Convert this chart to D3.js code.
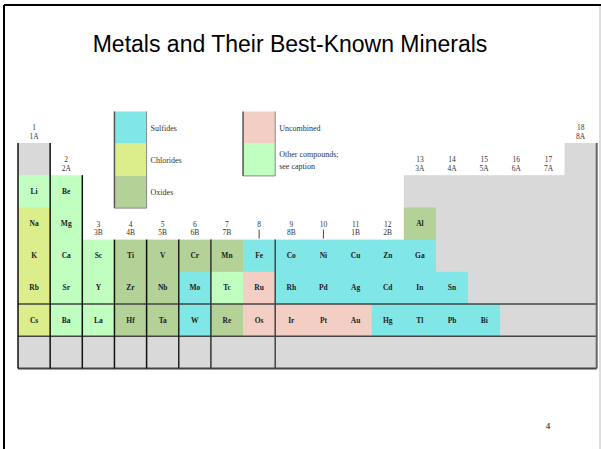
<!DOCTYPE html>
<html>
<head>
<meta charset="utf-8">
<script src="https://cdn.jsdelivr.net/npm/d3@7"></script>
<style>
  body { margin: 0; background: #fff; }
  svg { display: block; }
</style>
</head>
<body>
<div id="chart"></div>
<script>
// symbols per period (row), one entry per group column; '' = empty cell
const symbols = [
  ['H', '', '', '', '', '', '', '', '', '', '', '', '', '', '', '', '', 'He'],
  ['Li', 'Be', '', '', '', '', '', '', '', '', '', '', 'B', 'C', 'N', 'O', 'F', 'Ne'],
  ['Na', 'Mg', '', '', '', '', '', '', '', '', '', '', 'Al', 'Si', 'P', 'S', 'Cl', 'Ar'],
  ['K', 'Ca', 'Sc', 'Ti', 'V', 'Cr', 'Mn', 'Fe', 'Co', 'Ni', 'Cu', 'Zn', 'Ga', 'Ge', 'As', 'Se', 'Br', 'Kr'],
  ['Rb', 'Sr', 'Y', 'Zr', 'Nb', 'Mo', 'Tc', 'Ru', 'Rh', 'Pd', 'Ag', 'Cd', 'In', 'Sn', 'Sb', 'Te', 'I', 'Xe'],
  ['Cs', 'Ba', 'La', 'Hf', 'Ta', 'W', 'Re', 'Os', 'Ir', 'Pt', 'Au', 'Hg', 'Tl', 'Pb', 'Bi', 'Po', 'At', 'Rn'],
  ['Fr', 'Ra', 'Ac', 'Rf', 'Db', 'Sg', 'Bh', 'Hs', 'Mt', 'Ds', 'Rg', 'Cn', 'Nh', 'Fl', 'Mc', 'Lv', 'Ts', 'Og']
];

// mineral type: S sulfide, C chloride, O oxide, U uncombined, X other, G not shown (gray)
const minerals = [
  ['G', '', '', '', '', '', '', '', '', '', '', '', '', '', '', '', '', 'G'],
  ['X', 'X', '', '', '', '', '', '', '', '', '', '', 'G', 'G', 'G', 'G', 'G', 'G'],
  ['C', 'X', '', '', '', '', '', '', '', '', '', '', 'O', 'G', 'G', 'G', 'G', 'G'],
  ['C', 'X', 'X', 'O', 'O', 'O', 'O', 'S', 'S', 'S', 'S', 'S', 'S', 'G', 'G', 'G', 'G', 'G'],
  ['C', 'X', 'X', 'O', 'O', 'S', 'X', 'U', 'S', 'S', 'S', 'S', 'S', 'S', 'G', 'G', 'G', 'G'],
  ['C', 'X', 'X', 'O', 'O', 'S', 'O', 'U', 'U', 'U', 'U', 'S', 'S', 'S', 'S', 'G', 'G', 'G'],
  ['G', 'G', 'G', 'G', 'G', 'G', 'G', 'G', 'G', 'G', 'G', 'G', 'G', 'G', 'G', 'G', 'G', 'G']
];

const groupNumbers = ['1', '2', '3', '4', '5', '6', '7', '8', '9', '10', '11', '12', '13', '14', '15', '16', '17', '18'];
const groupNames = ['1A', '2A', '3B', '4B', '5B', '6B', '7B', '', '8B', '', '1B', '2B', '3A', '4A', '5A', '6A', '7A', '8A'];

const legendLeft = [
  { code: 'S', label: ['Sulfides'] },
  { code: 'C', label: ['Chlorides'] },
  { code: 'O', label: ['Oxides'] }
];
const legendRight = [
  { code: 'U', label: ['Uncombined'] },
  { code: 'X', label: ['Other compounds;', 'see caption'] }
];

const colors = {
  S: '#80e6e6',
  C: '#dcee8c',
  O: '#b4d198',
  U: '#f2cec4',
  X: '#c0ffc0',
  G: '#d9d9d9'
};

const width = 601;
const height = 449;

const svg = d3.select('#chart')
  .append('svg')
  .attr('width', width)
  .attr('height', height);

// slide frame
svg.append('line').attr('x1', 4).attr('y1', 5).attr('x2', 601).attr('y2', 5)
  .attr('stroke', '#000').attr('stroke-width', 2);
svg.append('line').attr('x1', 4).attr('y1', 5).attr('x2', 4).attr('y2', 449)
  .attr('stroke', '#000').attr('stroke-width', 2);
svg.append('line').attr('x1', 600).attr('y1', 6).attr('x2', 600).attr('y2', 449)
  .attr('stroke', '#bbb').attr('stroke-width', 1);

svg.append('text')
  .attr('x', 290)
  .attr('y', 52)
  .attr('text-anchor', 'middle')
  .style('font-family', '"Liberation Sans", Arial, sans-serif')
  .style('font-size', '23px')
  .text('Metals and Their Best-Known Minerals');

const x = d3.scaleBand().domain(d3.range(18)).range([18, 596.7]);
const y = d3.scaleBand().domain(d3.range(7)).range([143, 368.4]);

const cells = [];
minerals.forEach((row, r) => row.forEach((code, c) => {
  if (code) cells.push({ r, c, code, sym: symbols[r][c] });
}));

const grid = svg.append('g');

grid.selectAll('rect')
  .data(cells)
  .join('rect')
  .attr('x', (d) => x(d.c))
  .attr('y', (d) => y(d.r))
  .attr('width', x.bandwidth() + 0.5)
  .attr('height', y.bandwidth() + 0.5)
  .attr('fill', (d) => colors[d.code]);

grid.selectAll('text')
  .data(cells.filter((d) => d.code !== 'G'))
  .join('text')
  .attr('x', (d) => x(d.c) + x.bandwidth() / 2)
  .attr('y', (d) => y(d.r) + y.bandwidth() / 2 + 2.5)
  .attr('text-anchor', 'middle')
  .style('font-family', '"Liberation Serif", "Times New Roman", serif')
  .style('font-size', '7.5px')
  .style('font-weight', 'bold')
  .attr('fill', '#222')
  .text((d) => d.sym);

// group headers above the first cell of each column
const topRow = groupNumbers.map((g, c) => minerals.findIndex((row) => row[c] !== ''));

const headers = svg.append('g')
  .style('font-family', '"Liberation Serif", "Times New Roman", serif')
  .style('font-size', '7.5px')
  .attr('fill', '#333')
  .attr('text-anchor', 'middle');

groupNumbers.forEach((g, c) => {
  const cx = x(c) + x.bandwidth() / 2;
  const top = y(topRow[c]);
  headers.append('text').attr('x', cx).attr('y', top - 13).text(g);
  if (groupNames[c]) {
    headers.append('text').attr('x', cx).attr('y', top - 4.5).text(groupNames[c]);
  } else {
    headers.append('line')
      .attr('x1', cx).attr('x2', cx)
      .attr('y1', top - 10).attr('y2', top - 1)
      .attr('stroke', '#444').attr('stroke-width', 1);
  }
});

// table rules
const rules = svg.append('g').attr('fill', 'none');
const bottom = y(6) + y.bandwidth();

[5, 6].forEach((r) => {
  rules.append('line')
    .attr('x1', x(0)).attr('x2', x(17) + x.bandwidth())
    .attr('y1', y(r)).attr('y2', y(r))
    .attr('stroke', '#444').attr('stroke-width', 1.5);
});
rules.append('line')
  .attr('x1', x(0)).attr('x2', x(17) + x.bandwidth())
  .attr('y1', bottom).attr('y2', bottom)
  .attr('stroke', '#444').attr('stroke-width', 2);

// vertical rules: [column boundary, starting row, colour]
const vRules = [[0, 0, '#111'], [1, 0, '#111'], [2, 1, '#111'], [3, 3, '#111'], [4, 3, '#111'],
  [5, 3, '#222'], [6, 3, '#333'], [8, 3, '#444']];
vRules.forEach(([c, r, col]) => {
  rules.append('line')
    .attr('x1', x(c)).attr('x2', x(c))
    .attr('y1', y(r)).attr('y2', bottom)
    .attr('stroke', col).attr('stroke-width', 1.5);
});
rules.append('line')
  .attr('x1', x(17) + x.bandwidth()).attr('x2', x(17) + x.bandwidth())
  .attr('y1', y(0)).attr('y2', bottom)
  .attr('stroke', '#666').attr('stroke-width', 2);

// legends
function drawLegend(items, col, top) {
  const g = svg.append('g');
  const h = y.bandwidth();
  items.forEach((d, i) => {
    g.append('rect')
      .attr('x', x(col)).attr('y', top + i * h)
      .attr('width', x.bandwidth()).attr('height', h)
      .attr('fill', colors[d.code]);
    const lines = d.label;
    lines.forEach((t, j) => {
      g.append('text')
        .attr('x', x(col) + x.bandwidth() + 4)
        .attr('y', top + i * h + h / 2 + 3 - (lines.length - 1) * 6 + j * 12)
        .style('font-family', '"Liberation Serif", "Times New Roman", serif')
        .style('font-size', '8px')
        .attr('fill', '#333')
        .text(t);
    });
  });
  g.append('line')
    .attr('x1', x(col)).attr('x2', x(col))
    .attr('y1', top).attr('y2', top + items.length * h)
    .attr('stroke', '#555').attr('stroke-width', 1.5);
  g.append('line')
    .attr('x1', x(col) + x.bandwidth()).attr('x2', x(col) + x.bandwidth())
    .attr('y1', top).attr('y2', top + items.length * h)
    .attr('stroke', '#888').attr('stroke-width', 1);
  g.append('line')
    .attr('x1', x(col)).attr('x2', x(col) + x.bandwidth())
    .attr('y1', top + items.length * h).attr('y2', top + items.length * h)
    .attr('stroke', '#888').attr('stroke-width', 1);
}

drawLegend(legendLeft, 3, 111.5);
drawLegend(legendRight, 7, 111.5);

svg.append('text')
  .attr('x', 548)
  .attr('y', 429)
  .attr('text-anchor', 'middle')
  .style('font-family', '"Liberation Serif", "Times New Roman", serif')
  .style('font-size', '9px')
  .text('4');
</script>
</body>
</html>
